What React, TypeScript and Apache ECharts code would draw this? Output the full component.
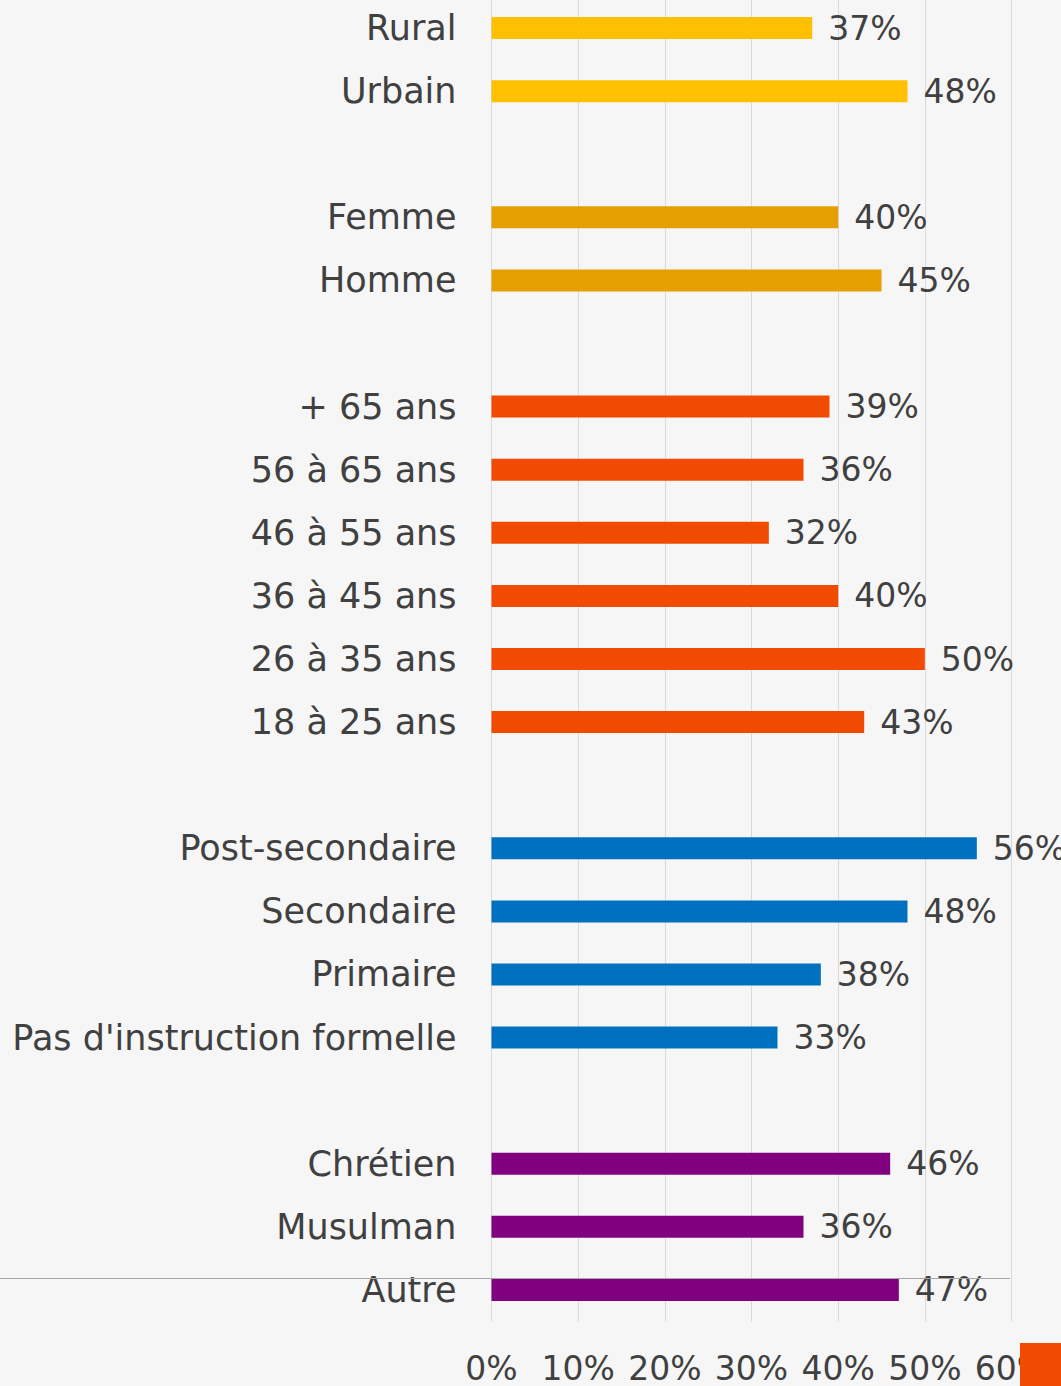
import React, { useEffect, useRef } from "react";
import * as echarts from "echarts";

const milieu = ["Rural", "Urbain"];
const milieuValues = [37, 48];
const sexe = ["Femme", "Homme"];
const sexeValues = [40, 45];
const age = ["+ 65 ans", "56 à 65 ans", "46 à 55 ans", "36 à 45 ans", "26 à 35 ans", "18 à 25 ans"];
const ageValues = [39, 36, 32, 40, 50, 43];
const education = ["Post-secondaire", "Secondaire", "Primaire", "Pas d'instruction formelle"];
const educationValues = [56, 48, 38, 33];
const religion = ["Chrétien", "Musulman", "Autre"];
const religionValues = [46, 36, 47];
const groupColors = ["#FFC000", "#E69F00", "#F04B00", "#0070C0", "#800080"];
const xTicks = [0, 10, 20, 30, 40, 50, 60];

const FONT = "'DejaVu Sans', sans-serif";
const OFFSET = 4; // chart div is shifted up by this amount

export default function App() {
  const ref = useRef<HTMLDivElement>(null);
  useEffect(() => {
    if (!ref.current) return;
    const chart = echarts.init(ref.current, undefined, { renderer: "svg" });
    const groups = [
      [milieu, milieuValues],
      [sexe, sexeValues],
      [age, ageValues],
      [education, educationValues],
      [religion, religionValues],
    ] as [string[], number[]][];
    const categories: string[] = [];
    const data: any[] = [];
    groups.forEach(([cats, vals], gi) => {
      if (gi > 0) {
        categories.push(" ".repeat(gi));
        data.push("-");
      }
      cats.forEach((c, i) => {
        categories.push(c);
        data.push({ value: vals[i], itemStyle: { color: groupColors[gi] } });
      });
    });
    chart.setOption({
      animation: false,
      backgroundColor: "#F6F6F6",
      grid: { left: 491.5, right: 49.5, top: 0.5, bottom: 64.5, containLabel: false },
      xAxis: {
        type: "value",
        min: xTicks[0],
        max: xTicks[xTicks.length - 1],
        interval: 10,
        axisLine: { show: false },
        axisTick: { show: false },
        splitLine: { show: true, lineStyle: { color: "#D9D9D9", width: 1 } },
        axisLabel: {
          formatter: (v: number) => v + "%",
          color: "#404040",
          fontFamily: FONT,
          fontSize: 33,
          margin: 30,
        },
      },
      yAxis: {
        type: "category",
        inverse: true,
        data: categories,
        axisLine: { show: false },
        axisTick: { show: false },
        splitLine: { show: false },
        axisLabel: {
          color: "#404040",
          fontFamily: FONT,
          fontSize: 35,
          margin: 35,
        },
      },
      series: [
        {
          type: "bar",
          data,
          barWidth: 22,
          label: {
            show: true,
            position: "right",
            distance: 16,
            formatter: (p: any) => p.value + "%",
            color: "#404040",
            fontFamily: FONT,
            fontSize: 33,
          },
        },
      ],
      graphic: [
        {
          type: "line",
          shape: { x1: 0, y1: 1278.5 + OFFSET, x2: 1010, y2: 1278.5 + OFFSET },
          style: { stroke: "#A6A6A6", lineWidth: 1 },
          z: 10,
        },
        {
          type: "rect",
          shape: { x: 1020, y: 1343 + OFFSET, width: 41, height: 43 },
          style: { fill: "#F04B00" },
          z: 10,
        },
      ],
    });
    return () => chart.dispose();
  }, []);
  return (
    <div
      ref={ref}
      style={{ position: "absolute", left: 0, top: -OFFSET, width: 1061, height: 1386 + OFFSET }}
    />
  );
}
